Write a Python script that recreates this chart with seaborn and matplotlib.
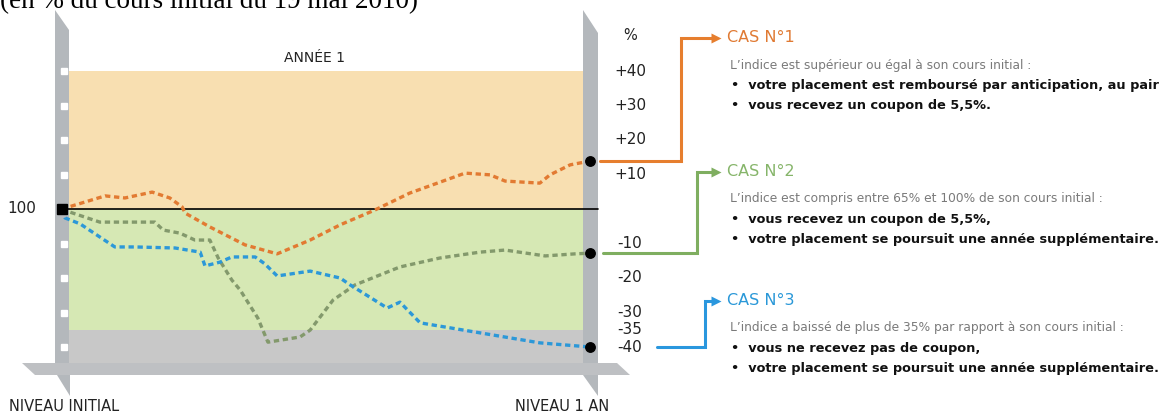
import matplotlib
matplotlib.use("Agg")
import matplotlib.pyplot as plt
from matplotlib.patches import Polygon
from matplotlib.transforms import Affine2D
import seaborn as sns
import pandas as pd

# ---------------- data ----------------
months_orange = [0, 0.98, 1.43, 2.05, 2.45, 2.73, 2.8, 3.36, 4.16, 4.89, 5.64, 6.32, 7.11,
                 7.9, 9.16, 9.73, 10.07, 10.86, 11.09, 11.55, 12]
pct_orange = [0, 3.8, 3.2, 4.9, 3.2, 0.6, -1.2, -5.2, -10.4, -13, -9, -4.6, -0.3,
              4.6, 10.4, 9.9, 8.1, 7.5, 9.9, 12.8, 13.9]
months_green = [0, 0.18, 0.86, 2.11, 2.3, 2.68, 3.02, 3.36, 3.55, 3.86, 4.05, 4.45, 4.68,
                5.41, 5.64, 6.16, 6.66, 7.23, 7.68, 8.59, 9.5, 10.07, 10.98, 11.66, 12]
pct_green = [0, -0.9, -3.8, -3.8, -6.1, -7.0, -9.0, -9.0, -14.2, -20.6, -23.5, -31.6, -38.6,
             -37.1, -35.1, -26.4, -22, -19.1, -16.8, -14.2, -12.5, -11.9, -13.6, -13, -12.8]
months_blue = [0, 0.07, 0.41, 1.2, 1.66, 2.57, 3.14, 3.25, 3.59, 3.86, 4.39, 4.61, 4.89,
               5.64, 6.32, 6.55, 7.39, 7.68, 8.14, 9.5, 10.86, 12]
pct_blue = [0, -2.6, -4.3, -11, -11, -11.3, -12.5, -16.5, -15.4, -13.9, -13.9, -15.9, -19.4,
            -18, -20, -22, -28.7, -27, -33, -35.9, -38.8, -40]

series_names = ["CAS N°1", "CAS N°2", "CAS N°3"]
band_edges = [40, 0, -35, -44.6]          # orange / green / grey zones
right_tick_values = [40, 30, 20, 10, -10, -20, -30, -35, -40]
right_tick_labels = ["+40", "+30", "+20", "+10", "-10", "-20", "-30", "-35", "-40"]
left_tick_values = [40, 30, 20, 10, -10, -20, -30, -40]
base_label = "100"

title = "(en % du cours initial du 19 mai 2010)"
period_label = "ANNÉE 1"
start_label = "NIVEAU INITIAL"
end_label = "NIVEAU 1 AN"
case_desc = [
    "L’indice est supérieur ou égal à son cours initial :",
    "L’indice est compris entre 65% et 100% de son cours initial :",
    "L’indice a baissé de plus de 35% par rapport à son cours initial :",
]
case_bullets = [
    ["•  votre placement est remboursé par anticipation, au pair",
     "•  vous recevez un coupon de 5,5%."],
    ["•  vous recevez un coupon de 5,5%,",
     "•  votre placement se poursuit une année supplémentaire."],
    ["•  vous ne recevez pas de coupon,",
     "•  votre placement se poursuit une année supplémentaire."],
]

# ---------------- style ----------------
line_colors = {"CAS N°1": "#E27A32", "CAS N°2": "#83996C", "CAS N°3": "#2C98D8"}
conn_colors = ["#E67E2E", "#7FAE60", "#2A97DE"]
title_colors = ["#E07A33", "#86B56A", "#2A98D8"]
band_colors = ["#F8DFB1", "#D6E8B4", "#C8C8C8"]
bar_color = "#B4B8BC"

sns.set_theme(style="white")
plt.rcParams["font.family"] = ["DejaVu Sans"]

W, H = 1165, 417
fig = plt.figure(figsize=(W / 100, H / 100), dpi=100)
ax = fig.add_axes([0, 0, 1, 1])
ax.axis("off")

# pixel layout of the chart scale
X0, XS = 62, 44.0    # pixel of month 0, pixels per month
Y0, YS = 209, 3.45   # pixel of 0 %, pixels per %
ax.set_xlim(-X0 / XS, (W - X0) / XS)
ax.set_ylim((Y0 - H) / YS, Y0 / YS)
P = Affine2D().scale(1 / W, -1 / H).translate(0, 1) + ax.transAxes


def xd(px):
    return (px - X0) / XS


def yd(py):
    return (Y0 - py) / YS


# zones
for top, bot, col in zip(band_edges[:-1], band_edges[1:], band_colors):
    ax.fill_between([xd(69), xd(583)], [top, top], [bot, bot], color=col, lw=0, zorder=1)

# grey frame bars (decoration)
frame = [
    [(55, 10), (69, 30), (69, 375), (55, 375)],
    [(583, 10), (598, 33), (598, 375), (583, 375)],
    [(57, 375), (70, 375), (70, 396)],
    [(583, 375), (598, 375), (598, 396)],
]
for pts in frame:
    ax.add_patch(Polygon(pts, closed=True, transform=P, color=bar_color, lw=0, zorder=2))
ax.add_patch(Polygon([(22, 363), (617, 363), (630, 375), (35, 375)], closed=True,
                     transform=P, color="#BEC0C3", lw=0, zorder=2))

# white tick squares on the left bar
ax.plot([xd(63.5)] * len(left_tick_values), left_tick_values, ls="none", marker="s",
        ms=4.2, color="white", zorder=3)

# base line (100)
ax.plot([xd(62), xd(598)], [0, 0], color="black", lw=1.2, zorder=4)

# series
frames = []
for name, xs, ys in zip(series_names,
                        [months_orange, months_green, months_blue],
                        [pct_orange, pct_green, pct_blue]):
    frames.append(pd.DataFrame({"month": xs, "pct": ys, "cas": name}))
df = pd.concat(frames, ignore_index=True)
sns.lineplot(data=df, x="month", y="pct", hue="cas", style="cas", palette=line_colors,
             dashes={n: (1.6, 1.1) for n in series_names}, estimator=None, sort=False,
             lw=2.4, legend=False, ax=ax, zorder=5)

ax.plot([0], [0], marker="s", ms=6.5, color="black", ls="none", zorder=6)
ends = [pct_orange[-1], pct_green[-1], pct_blue[-1]]
ax.plot([12] * 3, ends, marker="o", ms=6.8, color="black", ls="none", zorder=6)

# connectors to the case texts
conn_start = [600, 603, 657]
conn_corner = [681, 697, 705]
conn_label_y = [38, 172, 301]
for i in range(3):
    xs = [xd(conn_start[i]), xd(conn_corner[i]), xd(conn_corner[i]), xd(714)]
    ys = [ends[i], ends[i], yd(conn_label_y[i]), yd(conn_label_y[i])]
    ax.plot(xs, ys, color=conn_colors[i], lw=2.2, solid_joinstyle="miter", zorder=4)
    ax.plot([xd(716)], [yd(conn_label_y[i])], marker=">", ms=6.5, color=conn_colors[i],
            mec="none", zorder=4)
    ax.text(727, conn_label_y[i], series_names[i], transform=P, ha="left", va="center",
            fontsize=11.5, color=title_colors[i])
    ax.text(730, conn_label_y[i] + 27, case_desc[i], transform=P, ha="left", va="center",
            fontsize=8.8, color="#7a7a7a")
    for j, b in enumerate(case_bullets[i]):
        ax.text(731, conn_label_y[i] + 48 + 20 * j, b, transform=P, ha="left", va="center",
                fontsize=9.3, color="#111111", fontweight="bold")

# axis texts
ax.text(0, 8, title, transform=P, ha="left", va="baseline", fontsize=19.5,
        family=["Liberation Serif"], color="black")
ax.text(314, 58, period_label, transform=P, ha="center", va="center", fontsize=10,
        color="#222222")
ax.text(22, Y0, base_label, transform=P, ha="center", va="center", fontsize=11,
        color="#222222")
ax.text(630, 35, "%", transform=P, ha="center", va="center", fontsize=10.5, color="#222222")
for v, lab in zip(right_tick_values, right_tick_labels):
    ax.text(xd(630), v, lab, ha="center", va="center", fontsize=11, color="#222222")
ax.text(9, 407, start_label, transform=P, ha="left", va="center", fontsize=10.5,
        color="#222222")
ax.text(562, 407, end_label, transform=P, ha="center", va="center", fontsize=10.5,
        color="#222222")

fig.savefig("out.png", dpi=100, facecolor="white")
